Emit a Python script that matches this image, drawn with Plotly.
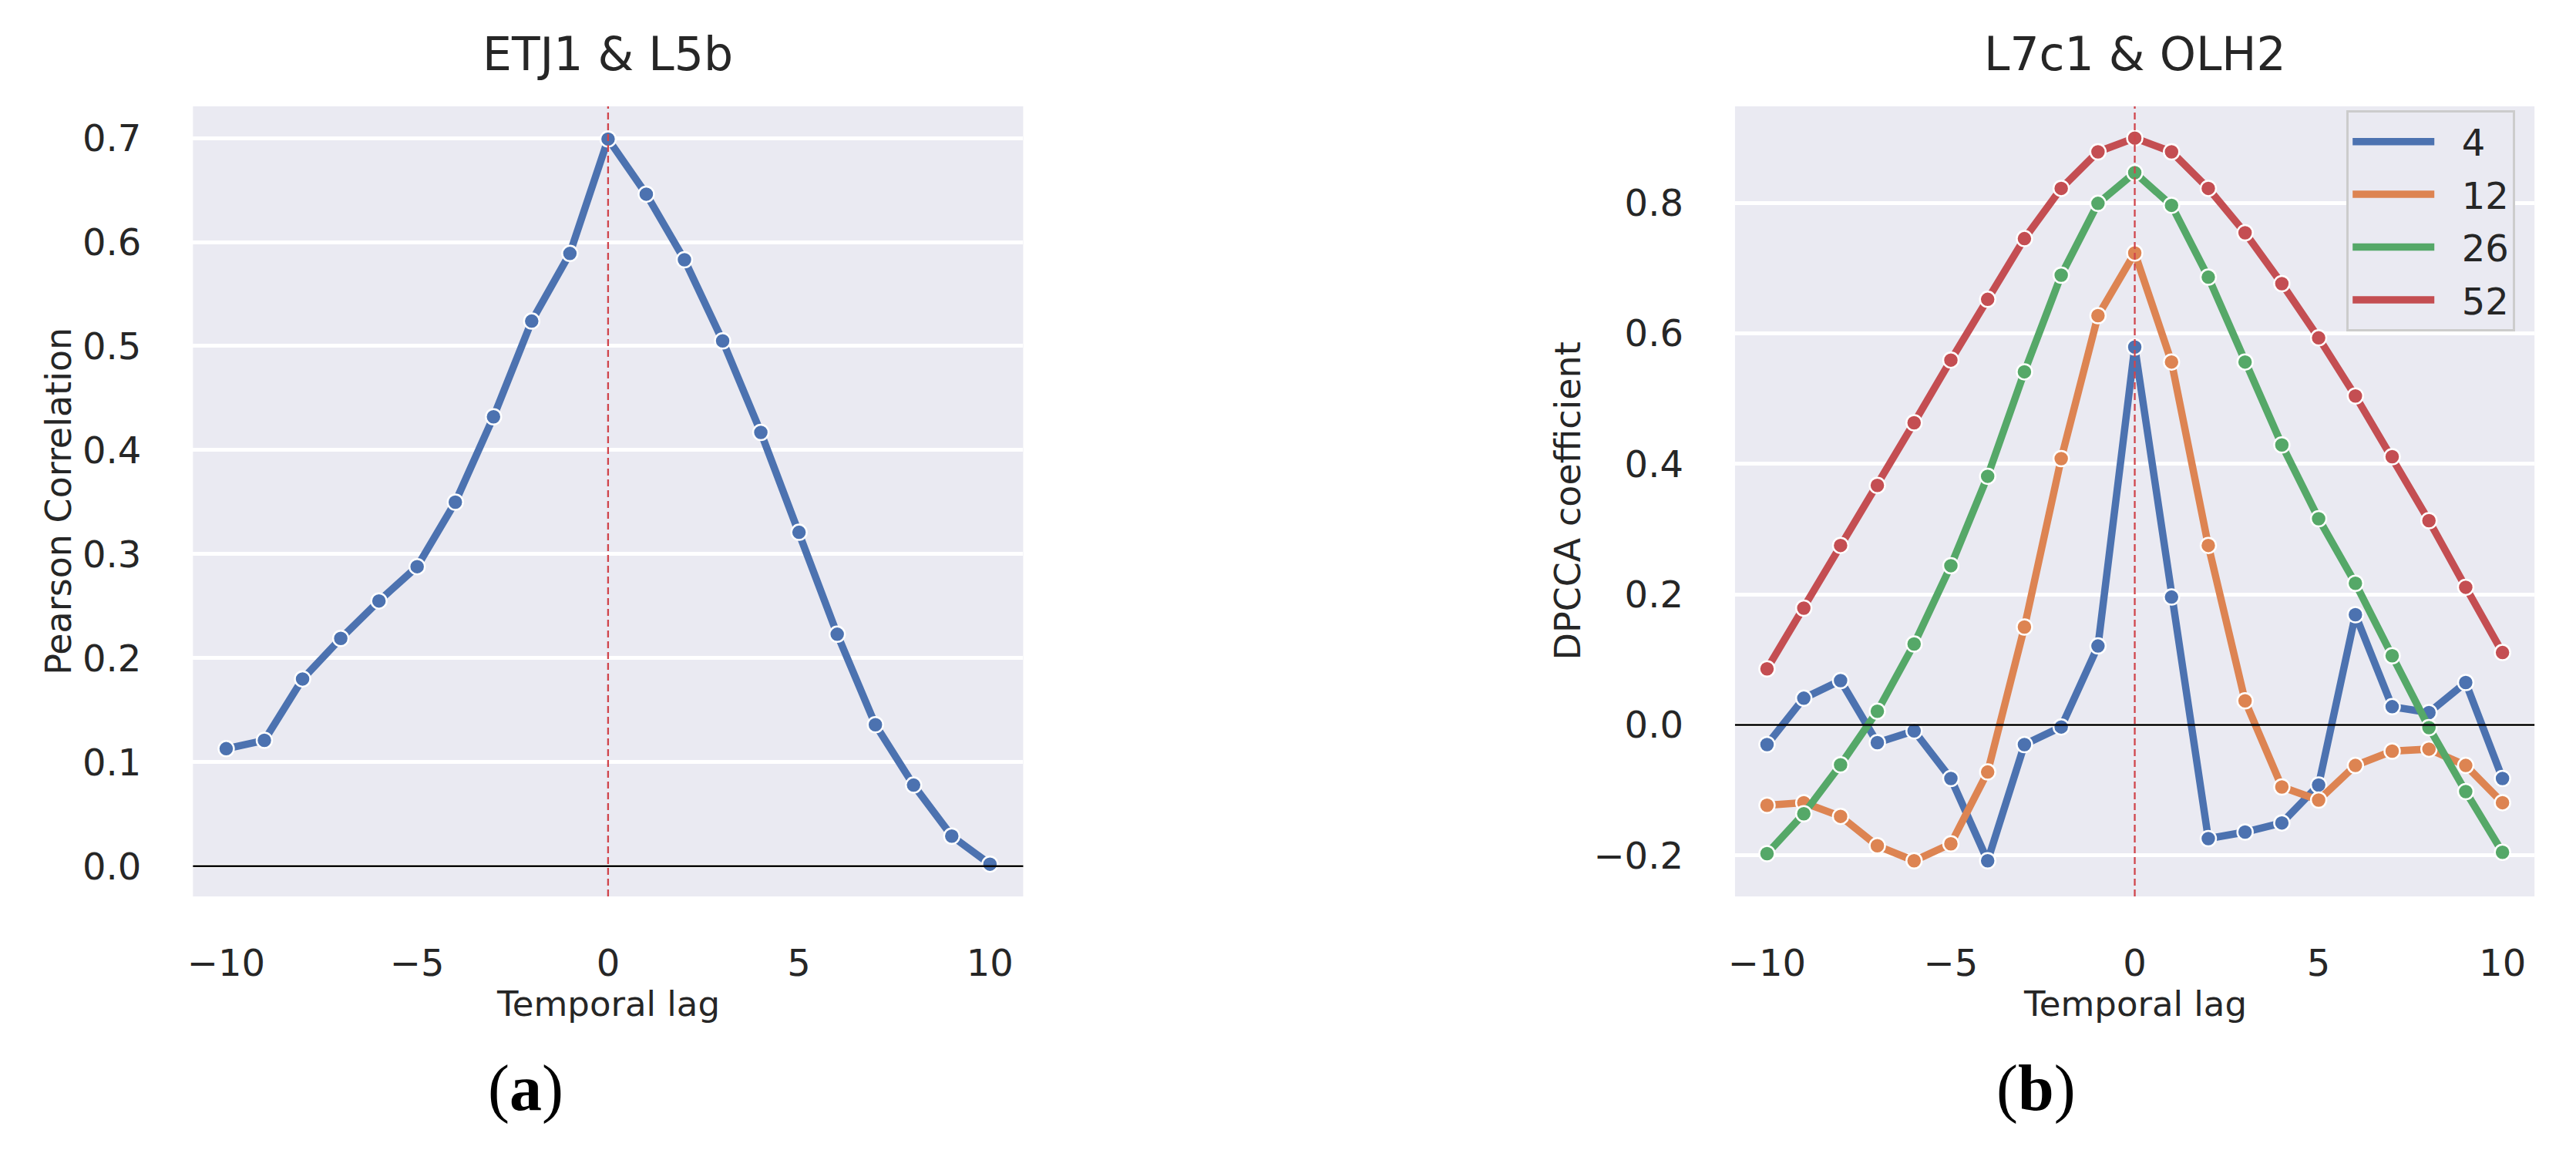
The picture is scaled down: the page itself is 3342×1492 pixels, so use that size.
import plotly.graph_objects as go

# ---------------- data ----------------
lags = list(range(-10, 11))

pearson = [0.113, 0.121, 0.180, 0.219, 0.255, 0.288, 0.350, 0.432, 0.524, 0.589,
           0.699, 0.646, 0.583, 0.505, 0.417, 0.321, 0.223, 0.136, 0.078, 0.029, 0.002]

dpcca_4 = [-0.030, 0.041, 0.068, -0.027, -0.009, -0.082, -0.208, -0.030, -0.003, 0.121,
           0.579, 0.196, -0.174, -0.164, -0.150, -0.092, 0.169, 0.028, 0.019, 0.065, -0.082]
dpcca_12 = [-0.123, -0.119, -0.140, -0.185, -0.208, -0.182, -0.072, 0.150, 0.408, 0.627,
            0.723, 0.556, 0.275, 0.037, -0.095, -0.115, -0.062, -0.040, -0.037, -0.062, -0.119]
dpcca_26 = [-0.197, -0.136, -0.061, 0.021, 0.124, 0.244, 0.381, 0.541, 0.689, 0.799,
            0.846, 0.796, 0.686, 0.556, 0.429, 0.316, 0.217, 0.106, -0.004, -0.102, -0.195]
dpcca_52 = [0.086, 0.179, 0.275, 0.367, 0.463, 0.559, 0.652, 0.745, 0.822, 0.878,
            0.899, 0.878, 0.822, 0.754, 0.676, 0.593, 0.504, 0.411, 0.313, 0.211, 0.111]

series_names = ["4", "12", "26", "52"]
series_values = [dpcca_4, dpcca_12, dpcca_26, dpcca_52]

x_ticks = [-10, -5, 0, 5, 10]
left_y_ticks = [0.0, 0.1, 0.2, 0.3, 0.4, 0.5, 0.6, 0.7]
right_y_ticks = [-0.2, 0.0, 0.2, 0.4, 0.6, 0.8]

left_title = "ETJ1 &amp; L5b"
right_title = "L7c1 &amp; OLH2"

# ---------------- style ----------------
W, H = 3342, 1492
FONT = "DejaVu Sans"
TXT = "#262626"
BG = "#EAEAF2"
colors = ["#4C72B0", "#DD8452", "#55A868", "#C44E52"]
LW = 9.5
MS = 20
GAP = "\u00a0\u00a0"  # spacing between legend line sample and its label

fig = go.Figure()

def add_series(x, y, color, name, xa, ya, legend):
    fig.add_trace(go.Scatter(
        x=x, y=y, mode="lines", name=GAP + name, legendgroup=name,
        line=dict(color=color, width=LW), showlegend=legend,
        xaxis=xa, yaxis=ya, hoverinfo="skip"))
    fig.add_trace(go.Scatter(
        x=x, y=y, mode="markers", name=name, legendgroup=name,
        marker=dict(color=color, size=MS, line=dict(color="white", width=2.5)),
        showlegend=False, xaxis=xa, yaxis=ya))

add_series(lags, pearson, colors[0], "Pearson", "x", "y", False)
for nm, vals, c in zip(series_names, series_values, colors):
    add_series(lags, vals, c, nm, "x2", "y2", True)

yd = [1 - 1163 / H, 1 - 138 / H]
axis_common = dict(
    showline=False, zeroline=False, ticks="",
    tickfont=dict(family=FONT, size=48, color=TXT),
)
fig.update_layout(
    width=W, height=H,
    margin=dict(l=0, r=0, t=0, b=0),
    paper_bgcolor="white", plot_bgcolor=BG,
    font=dict(family=FONT, color=TXT),
    showlegend=True,
    xaxis=dict(domain=[242 / W, 1322 / W], range=[-10.87, 10.87],
               tickvals=x_ticks, showgrid=False, ticklabelstandoff=54,
               anchor="y", **axis_common),
    yaxis=dict(domain=yd, range=[-0.029, 0.7304], tickvals=left_y_ticks,
               tickformat=".1f", showgrid=True, gridcolor="white", gridwidth=5,
               ticklabelstandoff=66, anchor="x", **axis_common),
    xaxis2=dict(domain=[2248 / W, 3288 / W], range=[-10.87, 10.87],
                tickvals=x_ticks, showgrid=False, ticklabelstandoff=54,
                anchor="y2", **axis_common),
    yaxis2=dict(domain=yd, range=[-0.2626, 0.9476], tickvals=right_y_ticks,
                tickformat=".1f", showgrid=True, gridcolor="white", gridwidth=5,
                ticklabelstandoff=66, anchor="x2", **axis_common),
    legend=dict(
        x=3263 / W, y=1 - 143 / H, xanchor="right", yanchor="top",
        bgcolor=BG, bordercolor="#CCCCCC", borderwidth=3,
        font=dict(family=FONT, size=48, color=TXT),
        itemwidth=106, tracegroupgap=3, traceorder="grouped",
    ),
)

# reference lines
for xr, yr in (("x", "y"), ("x2", "y2")):
    fig.add_shape(type="line", xref=xr + " domain", yref=yr, x0=0, x1=1, y0=0, y1=0,
                  line=dict(color="black", width=2.5), layer="above")
    fig.add_shape(type="line", xref=xr, yref=yr + " domain", x0=0, x1=0, y0=0, y1=1,
                  line=dict(color="#D0454C", width=2.3, dash="9px,5px"), layer="above")

def ann(text, x, y, size, angle=0, family=FONT, color=TXT):
    fig.add_annotation(text=text, x=x, y=y, xref="paper", yref="paper",
                       xanchor="center", yanchor="middle", showarrow=False,
                       textangle=angle, font=dict(family=family, size=size, color=color))

ann(left_title, 782 / W, 1 - 70 / H, 60)
ann(right_title, 2768 / W, 1 - 70 / H, 60)
ann("Temporal lag", 782 / W, 1 - 1302 / H, 45)
ann("Temporal lag", 2768 / W, 1 - 1302 / H, 45)
ann("Pearson Correlation", 67 / W, 1 - 650 / H, 46, angle=-90)
ann("DPCCA coefficient", 2030 / W, 1 - 650 / H, 46, angle=-90)
ann("(<b>a</b>)", 675 / W, 1 - 1412 / H, 84, family="Liberation Serif", color="black")
ann("(<b>b</b>)", 2640 / W, 1 - 1412 / H, 84, family="Liberation Serif", color="black")

fig.write_html(
    "out.html",
    config={"displayModeBar": False},
    post_script="document.body.style.margin='0';document.body.style.overflow='hidden';",
)
